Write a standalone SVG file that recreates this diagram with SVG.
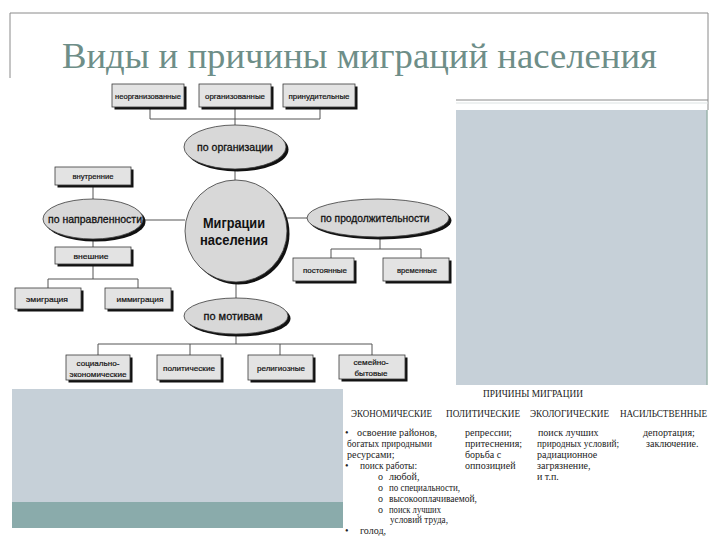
<svg xmlns="http://www.w3.org/2000/svg" width="720" height="540" viewBox="0 0 720 540">
<style>
.frame{stroke:#8a8a8a;stroke-width:1;fill:none}
.title{font-family:"Liberation Serif","Times New Roman",serif;font-size:36px;fill:#6e8e88}
.panel{fill:#c6d0d8}
.band{fill:#8aabab}
.box{fill:#e3e3e3;stroke:#3a3a3a;stroke-width:0.8}
.ell{fill:#d8d8d8;stroke:#3a3a3a;stroke-width:0.8}
.sh{fill:#111}
.con{stroke:#555;stroke-width:1;fill:none}
.bt{font-family:"Liberation Sans Narrow","Liberation Sans",Arial,sans-serif;font-size:8px;fill:#111;stroke:#111;stroke-width:0.2;text-anchor:middle}
.et{font-family:"Liberation Sans Narrow","Liberation Sans",Arial,sans-serif;font-size:11px;fill:#111;stroke:#111;stroke-width:0.3;text-anchor:middle}
.ct{font-family:"Liberation Sans Narrow","Liberation Sans",Arial,sans-serif;font-size:15px;font-weight:bold;fill:#111;text-anchor:middle}
.tt{font-family:"Liberation Serif","Times New Roman",serif;font-size:10px;fill:#222}
</style>

<!-- slide frame -->
<g id="frame">
<path class="frame" d="M10,13 H708 M10,13 V78 M708,13 V110"/>
<path class="frame" d="M456,100 H708"/>
<path d="M456,103 H708" stroke="#dde3e3" stroke-width="1"/>
<rect class="panel" x="456" y="110" width="251" height="275"/>
<path d="M707,110 V385" stroke="#9bb5ad" stroke-width="1.5"/>
<rect class="panel" x="12" y="389" width="331" height="113"/>
<rect class="band" x="12" y="502" width="331" height="26"/>
</g>

<text class="title" x="62" y="68" textLength="595" lengthAdjust="spacingAndGlyphs">Виды и причины миграций населения</text>

<!-- connectors -->
<g id="connectors">
<path class="con" d="M150,107 V119 H320 M320,107 V119 M235,107 V125"/>
<path class="con" d="M235,169 V181"/>
<path class="con" d="M93,185 V199 M93,239 V247 M93,264 V279 M48,288 V279 H138 V288"/>
<path class="con" d="M143,220 H185"/>
<path class="con" d="M287,218 H307 M380,237 V249 M331,258 V249 H421 V258"/>
<path class="con" d="M236,282 V298 M236,334 V344 M98,355 V344 H372 V355 M190,344 V355 M280,344 V355"/>
</g>

<!-- top boxes -->
<g id="neorg"><rect class="sh" x="114.5" y="86.5" width="72" height="23"/><rect class="box" x="112" y="84" width="72" height="23"/><text class="bt" x="148" y="98.5" textLength="66" lengthAdjust="spacingAndGlyphs">неорганизованные</text></g>
<g id="org"><rect class="sh" x="201.5" y="86.5" width="72" height="23"/><rect class="box" x="199" y="84" width="72" height="23"/><text class="bt" x="235" y="98.5" textLength="60" lengthAdjust="spacingAndGlyphs">организованные</text></g>
<g id="prin"><rect class="sh" x="285.5" y="86.5" width="72" height="23"/><rect class="box" x="283" y="84" width="72" height="23"/><text class="bt" x="319" y="98.5" textLength="61" lengthAdjust="spacingAndGlyphs">принудительные</text></g>

<g id="po-org"><ellipse class="sh" cx="237.5" cy="149.5" rx="51" ry="22"/><ellipse class="ell" cx="235" cy="147" rx="51" ry="22"/><text class="et" x="235" y="151" textLength="76" lengthAdjust="spacingAndGlyphs">по организации</text></g>

<!-- center -->
<g id="center"><circle class="sh" cx="238.5" cy="233.5" r="51"/><circle class="ell" cx="236" cy="231" r="51"/>
<text class="ct" x="234" y="228" textLength="62" lengthAdjust="spacingAndGlyphs">Миграции</text>
<text class="ct" x="234" y="245" textLength="68" lengthAdjust="spacingAndGlyphs">населения</text></g>

<!-- left branch -->
<g id="vnutr"><rect class="sh" x="57.5" y="169.5" width="76" height="18"/><rect class="box" x="55" y="167" width="76" height="18"/><text class="bt" x="93" y="179" textLength="41" lengthAdjust="spacingAndGlyphs">внутренние</text></g>
<g id="po-napr"><ellipse class="sh" cx="95.5" cy="221.5" rx="50" ry="20"/><ellipse class="ell" cx="93" cy="219" rx="50" ry="20"/><text class="et" x="95" y="223" textLength="94" lengthAdjust="spacingAndGlyphs">по направленности</text></g>
<g id="vnesh"><rect class="sh" x="57.5" y="249.5" width="76" height="17"/><rect class="box" x="55" y="247" width="76" height="17"/><text class="bt" x="91" y="258.5" textLength="35" lengthAdjust="spacingAndGlyphs">внешние</text></g>
<g id="emig"><rect class="sh" x="17.5" y="290.5" width="66" height="21"/><rect class="box" x="15" y="288" width="66" height="21"/><text class="bt" x="47" y="301.5" textLength="42" lengthAdjust="spacingAndGlyphs">эмиграция</text></g>
<g id="immig"><rect class="sh" x="107.5" y="290.5" width="66" height="21"/><rect class="box" x="105" y="288" width="66" height="21"/><text class="bt" x="140" y="301.5" textLength="47" lengthAdjust="spacingAndGlyphs">иммиграция</text></g>

<!-- right branch -->
<g id="po-prod"><ellipse class="sh" cx="380.5" cy="220.5" rx="71" ry="19"/><ellipse class="ell" cx="378" cy="218" rx="71" ry="19"/><text class="et" x="375" y="222" textLength="109" lengthAdjust="spacingAndGlyphs">по продолжительности</text></g>
<g id="post"><rect class="sh" x="295.5" y="260.5" width="61" height="23"/><rect class="box" x="293" y="258" width="61" height="23"/><text class="bt" x="325" y="272.5" textLength="44" lengthAdjust="spacingAndGlyphs">постоянные</text></g>
<g id="vrem"><rect class="sh" x="385.5" y="260.5" width="66" height="23"/><rect class="box" x="383" y="258" width="66" height="23"/><text class="bt" x="417" y="272.5" textLength="40" lengthAdjust="spacingAndGlyphs">временные</text></g>

<!-- bottom branch -->
<g id="po-motiv"><ellipse class="sh" cx="238.5" cy="318.5" rx="52" ry="18"/><ellipse class="ell" cx="236" cy="316" rx="52" ry="18"/><text class="et" x="233" y="320" textLength="59" lengthAdjust="spacingAndGlyphs">по мотивам</text></g>
<g id="soc"><rect class="sh" x="68.5" y="357.5" width="64" height="25"/><rect class="box" x="66" y="355" width="64" height="25"/><text class="bt" x="98" y="366" textLength="43" lengthAdjust="spacingAndGlyphs">социально-</text><text class="bt" x="98" y="377" textLength="57" lengthAdjust="spacingAndGlyphs">экономические</text></g>
<g id="polit"><rect class="sh" x="159.5" y="357.5" width="64" height="25"/><rect class="box" x="157" y="355" width="64" height="25"/><text class="bt" x="189" y="370.5" textLength="52" lengthAdjust="spacingAndGlyphs">политические</text></g>
<g id="relig"><rect class="sh" x="250.5" y="357.5" width="65" height="25"/><rect class="box" x="248" y="355" width="65" height="25"/><text class="bt" x="281" y="370.5" textLength="48" lengthAdjust="spacingAndGlyphs">религиозные</text></g>
<g id="semei"><rect class="sh" x="341.5" y="357.5" width="66" height="24"/><rect class="box" x="339" y="355" width="66" height="24"/><text class="bt" x="371" y="365" textLength="35" lengthAdjust="spacingAndGlyphs">семейно-</text><text class="bt" x="371" y="376" textLength="33" lengthAdjust="spacingAndGlyphs">бытовые</text></g>

<!-- causes table -->
<g id="causes">
<text class="tt" x="483" y="397" textLength="100" lengthAdjust="spacingAndGlyphs">ПРИЧИНЫ МИГРАЦИИ</text>
<text class="tt" x="351" y="417" textLength="81" lengthAdjust="spacingAndGlyphs">ЭКОНОМИЧЕСКИЕ</text>
<text class="tt" x="446" y="417" textLength="74" lengthAdjust="spacingAndGlyphs">ПОЛИТИЧЕСКИЕ</text>
<text class="tt" x="530" y="417" textLength="79" lengthAdjust="spacingAndGlyphs">ЭКОЛОГИЧЕСКИЕ</text>
<text class="tt" x="620" y="417" textLength="87" lengthAdjust="spacingAndGlyphs">НАСИЛЬСТВЕННЫЕ</text>

<text class="tt" x="345" y="436">•</text>
<text class="tt" x="357" y="436" textLength="80" lengthAdjust="spacingAndGlyphs">освоение районов,</text>
<text class="tt" x="347" y="447" textLength="85" lengthAdjust="spacingAndGlyphs">богатых природными</text>
<text class="tt" x="347" y="458">ресурсами;</text>
<text class="tt" x="345" y="469">•</text>
<text class="tt" x="360" y="469" textLength="57" lengthAdjust="spacingAndGlyphs">поиск работы:</text>
<text class="tt" x="378" y="480">o</text>
<text class="tt" x="389" y="480">любой,</text>
<text class="tt" x="378" y="491">o</text>
<text class="tt" x="389" y="491" textLength="71" lengthAdjust="spacingAndGlyphs">по специальности,</text>
<text class="tt" x="378" y="502">o</text>
<text class="tt" x="389" y="502" textLength="88" lengthAdjust="spacingAndGlyphs">высокооплачиваемой,</text>
<text class="tt" x="378" y="513">o</text>
<text class="tt" x="389" y="513" textLength="52" lengthAdjust="spacingAndGlyphs">поиск лучших</text>
<text class="tt" x="390" y="523" textLength="58" lengthAdjust="spacingAndGlyphs">условий труда,</text>
<text class="tt" x="345" y="534">•</text>
<text class="tt" x="360" y="534">голод,</text>

<text class="tt" x="465" y="436">репрессии;</text>
<text class="tt" x="465" y="447">притеснения;</text>
<text class="tt" x="465" y="458">борьба с</text>
<text class="tt" x="465" y="469">оппозицией</text>

<text class="tt" x="538" y="436">поиск лучших</text>
<text class="tt" x="537" y="447" textLength="82" lengthAdjust="spacingAndGlyphs">природных условий;</text>
<text class="tt" x="537" y="458">радиационное</text>
<text class="tt" x="537" y="469">загрязнение,</text>
<text class="tt" x="537" y="480">и т.п.</text>

<text class="tt" x="643" y="436">депортация;</text>
<text class="tt" x="646" y="447">заключение.</text>
</g>
</svg>
